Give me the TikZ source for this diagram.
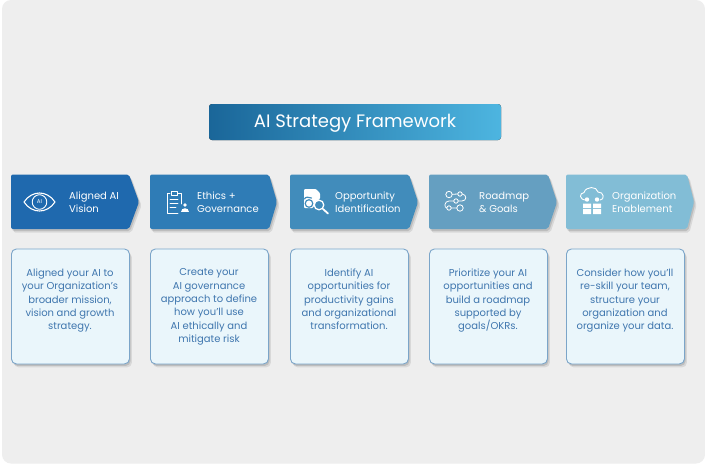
\documentclass[tikz,border=0pt]{standalone}
\usepackage{fontspec}
\setmainfont{Poppins}
\usetikzlibrary{shadows,calc}
\definecolor{pagebg}{HTML}{EEEEEE}
\definecolor{cardfill}{HTML}{EAF6FB}
\definecolor{cardline}{HTML}{7BA5C9}
\definecolor{cardtext}{HTML}{3F76AE}
\definecolor{ca}{HTML}{1F69AE}
\definecolor{cb}{HTML}{2F7CB6}
\definecolor{cc}{HTML}{418CBB}
\definecolor{cd}{HTML}{659FC1}
\definecolor{ce}{HTML}{82BDD6}
\definecolor{tleft}{HTML}{1A6699}
\definecolor{tright}{HTML}{4DB5E0}
\tikzset{
  softshadow/.style={drop shadow={shadow xshift=2.5pt,shadow yshift=-3.5pt,opacity=.09,fill=black},
                     drop shadow={shadow xshift=1.2pt,shadow yshift=-2pt,opacity=.12,fill=black}},
  chevron/.style={rounded corners=2pt,softshadow},
  cardbox/.style={draw=cardline,line width=.9pt,fill=cardfill,rounded corners=5pt,softshadow,
    minimum width=118pt,minimum height=115pt,inner sep=0pt,anchor=north west},
  cardlabel/.style={text=cardtext,font=\fontsize{10}{13.3}\selectfont,align=center,anchor=north},
  chevlabel/.style={text=white,font=\fontsize{10}{13}\selectfont,align=left,anchor=west,inner sep=0pt},
  icon/.style={draw=white,line width=.9pt,fill=none,line cap=round,line join=round},
  iconfill/.style={fill=white,draw=none},
}
\newcommand{\chev}[4]{% x left, x shoulder, x tip, colour
  \fill[chevron,fill=#4] (#1,174.5) -- (#2,174.5) -- (#3,202) -- (#2,229) -- (#1,229) -- cycle;}
\begin{document}
\begin{tikzpicture}[x=1pt,y=-1pt]
\useasboundingbox (0,0) rectangle (705,467);
\fill[white] (0,0) rectangle (705,467);
\fill[pagebg,rounded corners=9pt] (2,0) rectangle (705,463.5);
% title
\fill[rounded corners=3pt,left color=tleft,right color=tright] (209,104) rectangle (501,140);
\node[text=white,font=\fontsize{18}{20}\selectfont,inner sep=0pt] (title) at (355,123) {AI Strategy Framework};
% chevrons
\chev{11}{129}{139}{ca}
\chev{150}{269}{277}{cb}
\chev{290}{409}{418}{cc}
\chev{429}{548}{557}{cd}
\chev{566}{687}{694}{ce}
\node[chevlabel] (la) at (69,202) {Aligned AI\\Vision};
\node[chevlabel] (lb) at (197,202) {Ethics +\\Governance};
\node[chevlabel] (lc) at (335,202) {Opportunity\\Identification};
\node[chevlabel] (ld) at (479,202) {Roadmap\\\& Goals};
\node[chevlabel] (le) at (612,202) {Organization\\Enablement};
% cards
\node[cardbox] (ka) at (11,248.5) {};
\node[cardbox] (kb) at (150,248.5) {};
\node[cardbox] (kc) at (290,248.5) {};
\node[cardbox] (kd) at (429,248.5) {};
\node[cardbox] (ke) at (566,248.5) {};
\node[cardlabel] (ta) at (70,265.3) {Aligned your AI to\\your Organization's\\broader mission,\\vision and growth\\strategy.};
\node[cardlabel] (tb) at (209,265.3) {Create your\\AI governance\\approach to define\\how you'll use\\AI ethically and\\mitigate risk};
\node[cardlabel] (tc) at (349,265.3) {Identify AI\\opportunities for\\productivity gains\\and organizational\\transformation.};
\node[cardlabel] (td) at (488,265.3) {Prioritize your AI\\opportunities and\\build a roadmap\\supported by\\goals/OKRs.};
\node[cardlabel] (te) at (625,265.3) {Consider how you'll\\re-skill your team,\\structure your\\organization and\\organize your data.};
% eye icon
\draw[icon,line width=1.1pt] (24,202) .. controls (32,190) and (47,190) .. (55,202) .. controls (47,214) and (32,214) .. (24,202) -- cycle;
\draw[icon] (39.5,202) circle (7.3);
\node[text=white,font=\fontsize{5.5}{6}\selectfont,inner sep=0pt] (eyeai) at (39.5,202) {AI};
% clipboard icon
\draw[icon] (170,193.5) -- (167,193.5) -- (167,213) -- (178,213);
\draw[icon] (178,193.5) -- (181,193.5) -- (181,204);
\draw[icon] (171,191.5) rectangle (177,195.5);
\draw[icon,line width=.7pt] (170,199) -- (178,199) (170,203) -- (178,203) (170,207) -- (176,207);
\fill[iconfill] (185,205) circle (1.8);
\fill[iconfill] (181,212) .. controls (181,207) and (189,207) .. (189,212) -- cycle;
% document and magnifier icon
\fill[iconfill,rounded corners=1pt] (304,189) -- (316,189) -- (320,193) -- (320,199) -- (316,201) -- (313,208) -- (304,208) -- cycle;
\draw[cc,line width=1.2pt,line cap=round,line join=round] (304.5,199) .. controls (305,197) and (309,196.5) .. (311.5,198);
\draw[cc,line width=1.2pt] (309,203.5) circle (3.8);
\draw[icon,line width=1.3pt] (319,205) circle (4.8);
\draw[icon,line width=1.8pt] (323,209) -- (328,213.5);
% roadmap icon
\draw[icon,line width=.8pt] (449,194.5) circle (3.2) (460,194) circle (2.2) (456,201) circle (2.2) (449,208) circle (2.2) (460,208) circle (3.2);
\draw[icon,line width=.8pt] (452.2,194.3) -- (457.8,194) (462.2,194) .. controls (467,194.5) and (467,201) .. (462,201) -- (458.2,201) (453.8,201) -- (449,201) .. controls (444,201) and (444,208) .. (446.8,208) (451.2,208) -- (456.8,208);
% cloud icon
\draw[icon] (586,200) .. controls (579,200) and (579,193) .. (584,192.5) .. controls (586,186) and (597,186) .. (598,192) .. controls (604,191.5) and (605,200) .. (600,200);
\fill[iconfill] (587,199.5) circle (2.2) (597,199.5) circle (2.2);
\fill[iconfill] (583,203.5) rectangle (591,208) (583,209) rectangle (591,214) (593,203.5) rectangle (601,208) (593,209) rectangle (601,214);
\end{tikzpicture}
\end{document}
